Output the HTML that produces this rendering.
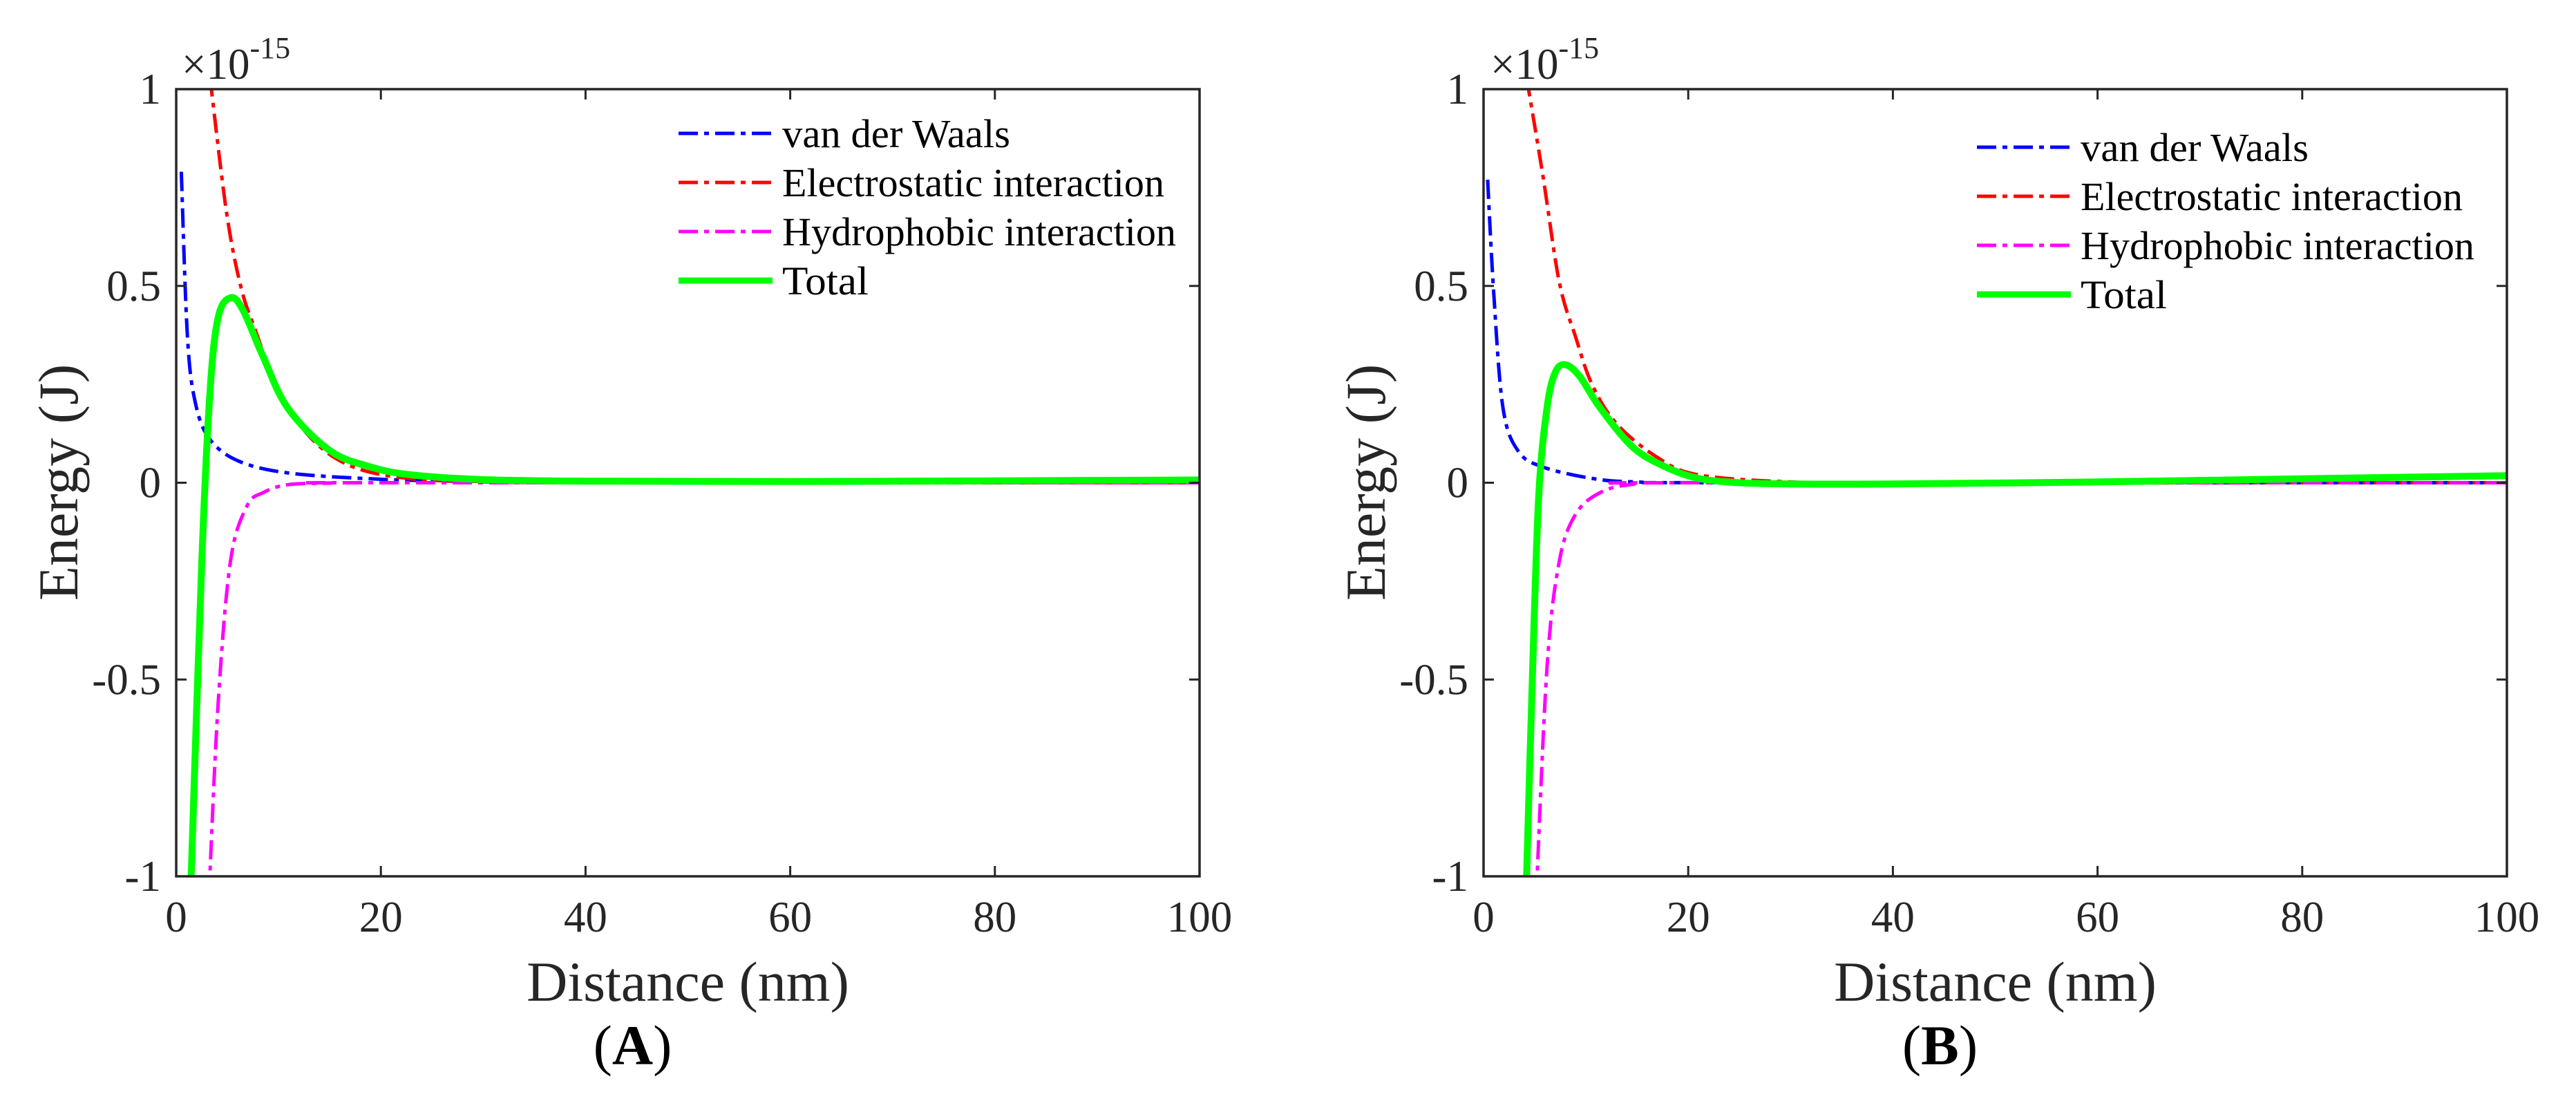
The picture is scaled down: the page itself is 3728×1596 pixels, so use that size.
<!DOCTYPE html>
<html><head><meta charset="utf-8"><style>
html,body{margin:0;padding:0;background:#fff;}
svg{display:block;font-family:"Liberation Serif",serif;}
</style></head><body>
<svg id="fig" width="3728" height="1596" viewBox="0 0 3728 1596"></svg>
<script>
const xTicks=[0,20,40,60,80,100];
const yTicks=[-1,-0.5,0,0.5,1];
const yTickLabels=["-1","-0.5","0","0.5","1"];
const seriesNames=["van der Waals","Electrostatic interaction","Hydrophobic interaction","Total"];
// Panel A
const aVdwX=[0.5,1.1,1.9,3.3,6.1,10.9,19,27,40,100];
const aVdwY=[0.79,0.37,0.2,0.11,0.055,0.025,0.01,0.004,0.001,0];
const aEleX=[3.3,4.9,6.3,7.7,10.1,13.3,17.3,23,30,40,100];
const aEleY=[1.03,0.69,0.5,0.39,0.23,0.11,0.04,0.01,0.003,0,0];
const aHydX=[3.2,4.1,5.3,6.9,8.5,10.9,15,20,100];
const aHydY=[-1.05,-0.56,-0.2,-0.06,-0.025,-0.005,-0.001,0,0];
const aTotX=[1.4,2.5,3.3,4.1,5.3,6.5,8.5,10.9,15,19,23,30,40,60,100];
const aTotY=[-1.05,-0.2,0.23,0.42,0.47,0.44,0.32,0.19,0.082,0.04,0.02,0.008,0.004,0.003,0.007];
// Panel B
const bVdwX=[0.4,1.0,1.9,3.4,5.8,10.6,15,25,100];
const bVdwY=[0.77,0.48,0.19,0.08,0.04,0.011,0.002,0,0];
const bEleX=[4.2,5.8,7.4,9.0,10.6,13,17,21,30,40,100];
const bEleY=[1.03,0.78,0.51,0.37,0.25,0.15,0.064,0.02,0.002,0,0];
const bHydX=[5.15,6.2,7.4,9.0,11.4,14.6,20,100];
const bHydY=[-1.05,-0.47,-0.2,-0.08,-0.025,-0.004,0,0];
const bTotX=[4.15,4.8,5.4,6.2,7.0,8.0,9.4,11.4,14.6,17.8,21,25,30,40,60,80,100];
const bTotY=[-1.05,-0.47,-0.03,0.19,0.28,0.30,0.27,0.19,0.09,0.04,0.011,0.0,-0.003,-0.003,0.002,0.01,0.018];

const NS="http://www.w3.org/2000/svg";
const svg=document.getElementById('fig');
function mk(tag,attrs,parent){const e=document.createElementNS(NS,tag);for(const k in attrs)e.setAttribute(k,attrs[k]);(parent||svg).appendChild(e);return e;}
const Y0=129,Y1=1268,W=1481;
const DASH='28 9 7 9';
function smooth(pts){let d=`M${pts[0][0]},${pts[0][1]}`;for(let i=0;i<pts.length-1;i++){const p0=pts[i-1]||pts[i],p1=pts[i],p2=pts[i+1],p3=pts[i+2]||p2;const c1=[p1[0]+(p2[0]-p0[0])/6,p1[1]+(p2[1]-p0[1])/6];const c2=[p2[0]-(p3[0]-p1[0])/6,p2[1]-(p3[1]-p1[1])/6];d+=` C${c1[0]},${c1[1]} ${c2[0]},${c2[1]} ${p2[0]},${p2[1]}`;}return d;}
const colors=["#0000ff","#ff0000","#ff00ff","#00ff00"];
function panel(id,x0,data,legX,legY,label,expX){
  const g=mk('g',{});
  
  
  const xs=v=>x0+v/100*W;
  const ys=v=>Y0+(1-v)/2*(Y1-Y0);
  mk('clipPath',{id:'clip'+id},g);
  const cp=g.lastChild;mk('rect',{x:x0,y:Y0,width:W,height:Y1-Y0},cp);
  data.forEach((s,i)=>{
    const pts=s[0].map((x,j)=>[xs(x),ys(s[1][j])]);
    const p=mk('path',{d:smooth(pts),fill:'none',stroke:colors[i],'stroke-width':i==3?10:5,'stroke-dasharray':i==3?'none':DASH,'clip-path':`url(#clip${id})`,'stroke-linejoin':'round'},g);
    
    
  });
  const fr=mk('rect',{x:x0,y:Y0,width:W,height:Y1-Y0,fill:'none',stroke:'#262626','stroke-width':3.5},g);
  
  
  xTicks.forEach(t=>{const x=xs(t);
    mk('line',{x1:x,x2:x,y1:Y1,y2:Y1-15,stroke:'#262626','stroke-width':3},g);
    mk('line',{x1:x,x2:x,y1:Y0,y2:Y0+15,stroke:'#262626','stroke-width':3},g);
    const tx=mk('text',{x:x,y:1348,'font-size':63,'text-anchor':'middle',fill:'#262626'},g);tx.textContent=t;
    
    
  });
  yTicks.forEach((t,i)=>{const y=ys(t);
    mk('line',{x1:x0,x2:x0+15,y1:y,y2:y,stroke:'#262626','stroke-width':3},g);
    mk('line',{x1:x0+W,x2:x0+W-15,y1:y,y2:y,stroke:'#262626','stroke-width':3},g);
    const tx=mk('text',{x:x0-22,y:y+21,'font-size':63,'text-anchor':'end',fill:'#262626'},g);tx.textContent=yTickLabels[i];
    
    
  });
  const ex=mk('text',{x:expX,y:114,'font-size':63,fill:'#262626'},g);
  ex.innerHTML='×10<tspan dy="-30" font-size="44">-15</tspan>';
  
  
  const xt=mk('text',{x:x0+W/2,y:1448,'font-size':82,'text-anchor':'middle',fill:'#262626'},g);xt.textContent='Distance (nm)';
  
  
  const yt=mk('text',{x:0,y:0,'font-size':82,'text-anchor':'middle',fill:'#262626',transform:`translate(${x0-143},698) rotate(-90)`},g);yt.textContent='Energy (J)';
  
  
  const lb=mk('text',{x:x0+W/2-80,y:1540,'font-size':82,'text-anchor':'middle',fill:'#000'},g);
  lb.innerHTML='(<tspan font-weight="bold">'+label+'</tspan>)';
  
  
  const widths=[330,553,570,125];
  seriesNames.forEach((n,i)=>{const y=legY[i];
    const l=mk('line',{x1:legX,x2:legX+136,y1:y,y2:y,stroke:colors[i],'stroke-width':i==3?9:5,'stroke-dasharray':i==3?'none':DASH},g);
    
    
    const t=mk('text',{x:legX+150,y:y+20,'font-size':58,fill:'#000',textLength:widths[i],lengthAdjust:'spacingAndGlyphs'},g);t.textContent=n;
    
    
  });
}
panel('A',255,[[aVdwX,aVdwY],[aEleX,aEleY],[aHydX,aHydY],[aTotX,aTotY]],982,[193,264,335,406],'A',263);
panel('B',2147,[[bVdwX,bVdwY],[bEleX,bEleY],[bHydX,bHydY],[bTotX,bTotY]],2861,[213,284,355,426],'B',2157);
</script>
</body></html>
